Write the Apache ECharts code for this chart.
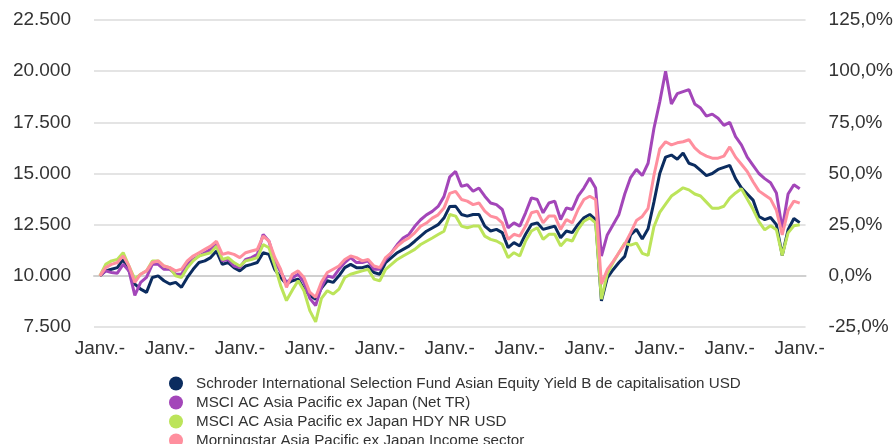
<!DOCTYPE html>
<html>
<head>
<meta charset="utf-8">
<script src="https://cdn.jsdelivr.net/npm/echarts@6/dist/echarts.min.js"></script>
<style>
  html, body { margin: 0; padding: 0; background: #fff; }
  #chart { width: 896px; height: 444px; }
</style>
</head>
<body>
<div id="chart"></div>
<script>
// month index 0 = Janv. 2013, 120 = Janv. 2023
const janMonths = [0, 12, 24, 36, 48, 60, 72, 84, 96, 108, 120];
const janLabel = 'Janv.-';

const seriesNames = [
    'Schroder International Selection Fund Asian Equity Yield B de capitalisation USD',
    'MSCI AC Asia Pacific ex Japan (Net TR)',
    'MSCI AC Asia Pacific ex Japan HDY NR USD',
    'Morningstar Asia Pacific ex Japan Income sector'
];
const colors = ['#0b2c5f', '#a346b9', '#bce45a', '#ff8f9e'];

const fund = [
    10000, 10240, 10320, 10400, 10800, 10240, 9600, 9350, 9190, 9920, 10000, 9760, 9600, 9680, 9440, 9920, 10320, 10650, 10730, 10890, 11210, 10560, 10650, 10400, 10240, 10480, 10560, 10650, 11130, 11050, 10300,
    9920, 9600, 9760, 9840, 9350, 9050, 8850, 9400, 9760, 9680, 10000, 10400, 10560, 10400, 10400, 10480, 10160, 10080, 10650, 10890, 11130, 11290, 11450, 11690, 11940, 12180, 12340, 12500, 12820, 13390,
    13400, 13000, 12920, 13000, 13000, 12430, 12190, 12270, 12110, 11380, 11620, 11460, 12030, 12510, 12590, 12270, 12350, 12430, 11860, 12190, 12110, 12510, 12840, 13000, 12750,
    8780, 9900, 10300, 10650, 10950, 12000, 12270, 11800, 12300, 13600, 15000, 15800, 15900, 15700, 16000, 15500, 15400, 15150, 14900, 15000, 15200, 15300, 15400, 14750, 14300, 14000, 13700, 12900, 12750, 12850, 12500, 11000, 12250, 12800, 12600
];
const msciNet = [
    10000, 10240, 10160, 10130, 10560, 10240, 9050, 9680, 9920, 10560, 10560, 10320, 10320, 10080, 10080, 10560, 10800, 10970, 11130, 11290, 11530, 10730, 10800, 10480, 10400, 10800, 10890, 11050, 12020, 11690, 10700,
    10200, 9680, 9900, 10080, 9680, 8900, 8550, 9450, 10000, 9920, 10320, 10650, 10890, 10650, 10650, 10730, 10320, 10320, 10800, 11130, 11530, 11850, 12020, 12420, 12740, 12980, 13150, 13390, 13870, 14840,
    15100, 14370, 14450, 14130, 14290, 13890, 13560, 13480, 13240, 12350, 12590, 12430, 13080, 13810, 13730, 13080, 13560, 13650, 12750, 13320, 13240, 13890, 14290, 14780, 14290,
    10970, 12000, 12500, 13000, 14000, 14800, 15200, 14900, 15500, 17200, 18500, 20000, 18400, 18900, 19000, 19100, 18400, 18200, 17800, 17900, 17700, 17350, 17500, 16800, 16400, 15800, 15400, 15000, 14750, 14550, 14050, 12300, 14000, 14450, 14250
];
const msciHdy = [
    10000, 10560, 10730, 10800, 11130, 10480, 9840, 10080, 10240, 10730, 10730, 10480, 10400, 10000, 9920, 10400, 10730, 10970, 11050, 11130, 11450, 10800, 10890, 10650, 10480, 10730, 10800, 10890, 11530, 11370, 10500,
    9520, 8790, 9300, 9760, 9270, 8300, 7750, 8900, 9270, 9110, 9350, 9920, 10080, 10160, 10240, 10320, 9840, 9760, 10320, 10560, 10800, 10970, 11130, 11290, 11530, 11690, 11850, 12020, 12180, 13000,
    12920, 12430, 12350, 12430, 12430, 11940, 11780, 11700, 11540, 10890, 11130, 10970, 11700, 12190, 12350, 11780, 12030, 12030, 11460, 11780, 11700, 12270, 12670, 12830, 12590,
    8860, 10100, 10650, 11130, 11600, 11500, 11600, 11100, 11000, 12400, 13100, 13500, 13900, 14100, 14300, 14200, 14000, 13900, 13600, 13300, 13300, 13400, 13800, 14050, 14250, 13750, 13250, 12650, 12250, 12450, 12250, 11000, 12100, 12450, 12500
];
const sector = [
    10000, 10400, 10560, 10650, 10970, 10480, 9680, 10080, 10240, 10650, 10730, 10480, 10400, 10240, 10320, 10730, 10970, 11130, 11290, 11450, 11690, 11050, 11130, 11050, 10890, 11130, 11210, 11290, 11940, 11690, 10900,
    10320, 9440, 10080, 10240, 9920, 9200, 8950, 9700, 10160, 10320, 10480, 10800, 10970, 10890, 10730, 10800, 10480, 10400, 10890, 11130, 11450, 11690, 11850, 12100, 12420, 12580, 12820, 12980, 13310, 14030,
    14130, 13730, 13650, 13480, 13560, 13160, 12920, 12840, 12590, 11780, 12030, 11940, 12430, 13080, 13160, 12590, 12920, 12920, 12270, 12750, 12590, 13240, 13730, 13890, 13730,
    9600, 10300, 10700, 11130, 11550, 12100, 12700, 12900, 13300, 14900, 16200, 16550, 16400, 16500, 16550, 16650, 16250, 16000, 15850, 15750, 15750, 15850, 16300, 15800, 15450, 15100, 14600, 14150, 13950, 13750, 13200, 12000, 13200, 13650, 13550
];

const allValues = [fund, msciNet, msciHdy, sector];

const thousands = (v) => String(Math.round(v)).replace(/\B(?=(\d{3})+(?!\d))/g, '.');
const percent = (v) => v.toFixed(1).replace('.', ',') + '%';

const font = '"Liberation Sans", Arial, sans-serif';

const option = {
    animation: false,
    backgroundColor: '#fff',
    textStyle: { fontFamily: font },
    grid: {
        left: 94,
        right: 90,
        top: 20,
        bottom: 117
    },
    legend: {
        orient: 'vertical',
        left: 169,
        top: 376,
        height: 120,
        padding: 0,
        icon: 'circle',
        itemWidth: 30,
        itemHeight: 14,
        itemGap: 4,
        textStyle: {
            fontFamily: font,
            fontSize: 15.2,
            lineHeight: 14,
            color: '#333'
        },
        data: seriesNames
    },
    xAxis: {
        type: 'value',
        min: -1,
        max: 121,
        axisLine: { show: true, lineStyle: { color: '#d0d0d0', width: 2 } },
        axisTick: { show: false },
        splitLine: { show: false },
        axisLabel: {
            customValues: janMonths,
            formatter: () => janLabel,
            fontFamily: font,
            fontSize: 19,
            color: '#333',
            margin: 12
        }
    },
    yAxis: [
        {
            type: 'value',
            position: 'left',
            min: 7500,
            max: 22500,
            interval: 2500,
            axisLine: { show: false },
            axisTick: { show: false },
            splitLine: { show: true, lineStyle: { color: '#e4e4e4', width: 2 } },
            axisLabel: {
                formatter: thousands,
                fontFamily: font,
                fontSize: 19,
                color: '#333',
                margin: 23
            }
        },
        {
            type: 'value',
            position: 'right',
            min: -25,
            max: 125,
            interval: 25,
            axisLine: { show: false },
            axisTick: { show: false },
            splitLine: { show: false },
            axisLabel: {
                formatter: percent,
                fontFamily: font,
                fontSize: 19,
                color: '#333',
                margin: 23
            }
        }
    ],
    series: allValues.map((vals, s) => ({
        name: seriesNames[s],
        type: 'line',
        yAxisIndex: 0,
        showSymbol: false,
        symbol: 'none',
        color: colors[s],
        lineStyle: { color: colors[s], width: 3 },
        data: vals.map((v, i) => [i, v]),
        z: 2 + s
    }))
};

const chart = echarts.init(document.getElementById('chart'));
chart.setOption(option);
</script>
</body>
</html>
